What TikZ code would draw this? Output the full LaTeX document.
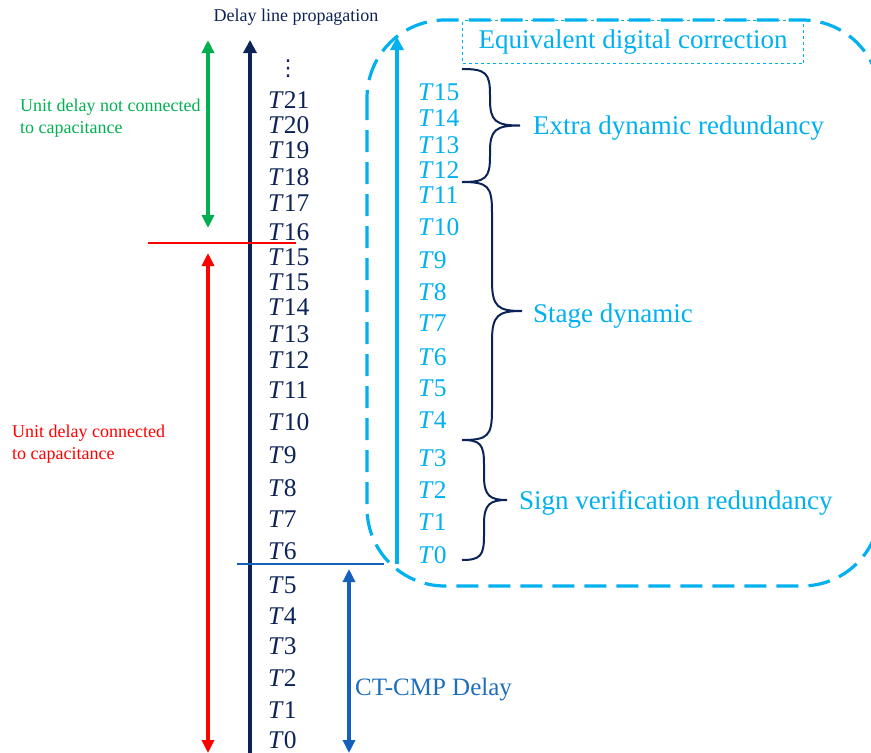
\documentclass[tikz,border=0pt]{standalone}
\usepackage{fontspec}
\setmainfont{Liberation Serif}
\newfontfamily\dvsans{DejaVu Sans}
\usetikzlibrary{arrows.meta,calc}
\definecolor{navy}{RGB}{12,35,88}
\definecolor{gr}{RGB}{0,176,80}
\definecolor{rd}{RGB}{255,0,0}
\definecolor{cy}{RGB}{0,176,240}
\definecolor{bl}{RGB}{21,96,189}
\definecolor{bltx}{RGB}{30,110,190}
\tikzset{tipn/.tip={Triangle[length=13pt,width=13pt]},
         tips/.tip={Triangle[length=13pt,width=12pt]}}
\newcommand\mybrace[6]{% xs, xm, xt, yt, yb, r
\draw[bracestyle] (#1,#4) .. controls ({#2-4},#4) and (#2,{#4+4}) .. (#2,{#4+#6}) -- (#2,{(#4+#5)/2-#6}) .. controls (#2,{(#4+#5)/2-4}) and ({#2+6},{(#4+#5)/2}) .. (#3,{(#4+#5)/2}) .. controls ({#2+6},{(#4+#5)/2}) and (#2,{(#4+#5)/2+4}) .. (#2,{(#4+#5)/2+#6}) -- (#2,{#5-#6}) .. controls (#2,{#5-4}) and ({#2-4},#5) .. (#1,#5);}
\begin{document}
\begin{tikzpicture}[x=1pt,y=-1pt,
  tl/.style={anchor=west,inner sep=0pt,font=\fontsize{25.5}{25.5}\selectfont},
  lab/.style={anchor=west,inner sep=0pt,font=\fontsize{27}{27}\selectfont,text=cy},
  small/.style={anchor=west,inner sep=0pt,align=left,font=\fontsize{18}{22}\selectfont},
  bracestyle/.style={draw=navy,line width=2pt}]
\useasboundingbox (0,0) rectangle (871,753);
\clip (0,0) rectangle (871,753);
% big dashed rounded box
\draw[cy,line width=3.2pt,dash pattern=on 22pt off 10pt,rounded corners=78pt] (367,20) rectangle (880,586);
% small dashed box
\node[draw=cy,dashed,line width=1pt,minimum width=341pt,minimum height=43pt,inner sep=0pt,anchor=north west,text=cy,font=\fontsize{27}{27}\selectfont] (eq) at (462,20) {Equivalent digital correction};
% title
\node[inner sep=0pt,text=navy,font=\fontsize{18}{18}\selectfont] (title) at (296,17) {Delay line propagation};
% coordinates
\coordinate (nb) at (250,753);
\coordinate (nt) at (250,40);
\coordinate (gt) at (208,40);
\coordinate (gb) at (208,228);
\coordinate (rt) at (208,253);
\coordinate (rb) at (208,753);
\coordinate (rl1) at (148,243);
\coordinate (rl2) at (296,243);
\coordinate (bl1) at (237,564);
\coordinate (bl2) at (384,564);
\coordinate (ct) at (349,569);
\coordinate (cb) at (349,753);
\coordinate (cyb) at (397,564);
\coordinate (cyt) at (397,37);
% main arrows
\draw[navy,line width=4.5pt,-{tipn}] (nb) -- (nt);
\draw[gr,line width=4pt,{tips}-{tips}] (gb) -- (gt);
\draw[rd,line width=4pt,{tips}-{tips}] (rb) -- (rt);
\draw[rd,line width=2pt] (rl1) -- (rl2);
\draw[bl,line width=2pt] (bl1) -- (bl2);
\draw[bl,line width=3.5pt,{tips}-{tips}] (cb) -- (ct);
\draw[cy,line width=3.5pt,-{tipn}] (cyb) -- (cyt);
% left labels
\node[small,text=gr] (g) at (20,118) {Unit delay not connected\\to capacitance};
\node[small,text=rd] (r) at (12,444) {Unit delay connected\\to capacitance};
\node[anchor=west,inner sep=0pt,font=\fontsize{25}{25}\selectfont,text=bltx] (ctl) at (355,690) {CT-CMP Delay};
% dots
\node[inner sep=0pt,text=navy,font=\dvsans\fontsize{22}{22}\selectfont] (dots) at (288,69) {⋮};
% left T column
\foreach \n/\t/\yy in {a/21/100,b/20/125,c/19/150,d/18/177,e/17/203,f/16/232,g/15/257,h/15/282,i/14/307,j/13/334,k/12/360,l/11/390,m/10/422,n/9/455,o/8/488,p/7/519,q/6/551,r/5/585,s/4/616,t/3/646,u/2/678,v/1/710,w/0/740}
  \node[tl,text=navy] (L\n) at (268,\yy) {\textit{T}\t};
% right T column
\foreach \t/\yy in {15/92,14/118,13/145,12/170,11/195,10/227,9/260,8/292,7/323,6/357,5/388,4/420,3/458,2/490,1/522,0/555}
  \node[tl,text=cy] (R\t) at (418,\yy) {\textit{T}\t};
% braces
\mybrace{462}{490}{520}{69}{182}{26}
\mybrace{462}{492}{522}{182}{440}{30}
\mybrace{462}{484}{507}{440}{560}{24}
% brace labels
\node[lab] (ex) at (533,128) {Extra dynamic redundancy};
\node[lab] (st) at (533,316) {Stage dynamic};
\node[lab] (sv) at (519,503) {Sign verification redundancy};
\end{tikzpicture}
\end{document}
